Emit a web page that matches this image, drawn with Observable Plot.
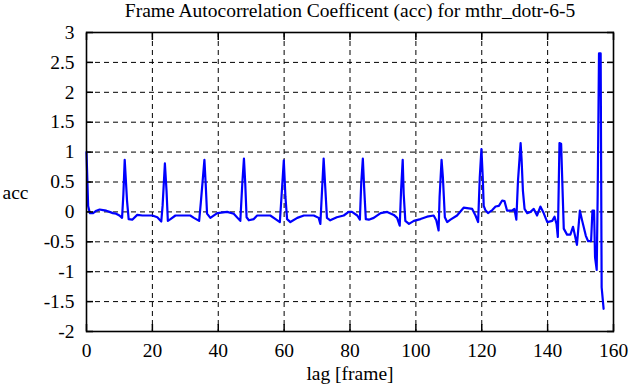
<!DOCTYPE html>
<html>
<head>
<meta charset="utf-8">
<script src="https://cdn.jsdelivr.net/npm/d3@7"></script>
<script src="https://cdn.jsdelivr.net/npm/@observablehq/plot@0.6"></script>
<style>
  html, body { margin: 0; padding: 0; background: #fff; }
</style>
</head>
<body>
<div id="chart"></div>
<script>
const title = "Frame Autocorrelation Coefficent (acc) for mthr_dotr-6-5";
const xLabel = "lag [frame]";
const yLabel = "acc";
const xTicks = [0, 20, 40, 60, 80, 100, 120, 140, 160];
const yTicks = [-2, -1.5, -1, -0.5, 0, 0.5, 1, 1.5, 2, 2.5, 3];

const lags = [
  0, 0.5, 1, 2, 3, 4, 5, 6, 7, 8, 9, 10, 10.8, 11.2, 11.6, 11.9, 12.3, 12.8, 13.9, 15.4, 17, 20, 21.5, 22.7,
  23.1, 23.8, 24.3, 24.7, 25.5, 27, 31.5, 32.6, 34.2, 34.7, 35.8, 36.2, 36.6, 37.6, 39.7, 42.7, 44.7, 46.7,
  47.3, 47.8, 48.2, 48.6, 49.3, 50.8, 51.8, 55.8, 57.4, 58.7, 59.2, 59.9, 60.4, 60.9, 61.9, 64, 66, 69, 70.5, 71,
  71.5, 72, 72.5, 73, 74, 76, 78.1, 79.6, 80.6, 82.2, 83, 83.4, 83.9, 84.3, 84.8, 85.7, 87.2, 89.3, 91.3, 93.3,
  94.3, 95.1, 95.5, 96, 96.3, 96.8, 97.9, 99.4, 101.4, 103.4, 105.4, 106.2, 106.9, 107.2, 107.8, 108.2, 108.8,
  109.5, 110.5, 112.5, 114.5, 117.1, 118.1, 118.9, 119.4, 119.9, 120.3, 120.6, 121.1, 121.9, 123.2, 124.2, 125.2,
  126.2, 126.9, 127.7, 129.2, 129.9, 130.5, 131, 131.8, 132.1, 132.5, 133, 133.8, 134.8, 135.8, 136.8, 137.8,
  138.8, 139.9, 141.4, 142.1, 142.7, 143.1, 143.4, 143.6, 144.1, 144.6, 144.9, 145.9, 146.9, 147.7, 148.2, 148.9,
  149.8, 150.5, 151.6, 152.3, 153.2, 153.6, 154.1, 154.4, 154.9, 155.2, 155.6, 156.1, 156.4, 157
];
const acc = [
  1.0, 0.1, -0.02, -0.02, 0.02, 0.04, 0.03, 0.02, 0.0, -0.02, -0.03, -0.06, -0.1, 0.3, 0.87, 0.58, 0.19, -0.12, -0.13, -0.05, -0.06, -0.06, -0.09, -0.16,
  0.1, 0.81, 0.35, -0.15, -0.12, -0.06, -0.06, -0.1, -0.15, 0.15, 0.87, 0.45, -0.03, -0.1, -0.02, 0.0, -0.03, -0.15,
  0.47, 0.89, 0.47, -0.09, -0.14, -0.12, -0.06, -0.06, -0.12, -0.17, 0.25, 0.86, 0.25, -0.12, -0.17, -0.1, -0.06, -0.06, -0.1, -0.2,
  0.35, 0.89, 0.4, -0.1, -0.14, -0.09, -0.06, 0.0, 0.0, -0.06, -0.13, 0.47, 0.89, 0.4, -0.12, -0.13, -0.1, -0.02, 0.0, -0.05,
  -0.1, -0.23, 0.35, 0.87, 0.3, -0.15, -0.2, -0.15, -0.12, -0.08, -0.06, -0.14, -0.31, 0.25, 0.87, 0.58, -0.09,
  -0.17, -0.13, -0.06, 0.07, 0.05, -0.06, -0.17, 0.58, 1.05, 0.58, 0.1, 0.03, -0.02, 0.03, 0.09, 0.1,
  0.19, 0.18, 0.02, 0.02, 0.05, -0.13, 0.52, 1.15, 0.87, 0.35, 0.05, -0.02, 0.0, 0.05, -0.06, 0.09,
  -0.02, -0.17, -0.15, -0.08, -0.2, -0.42, 0.52, 1.15, 1.14, 0.25, -0.28, -0.38, -0.38, -0.25, -0.37, -0.55,
  0.02, -0.15, -0.4, -0.49, -0.49, 0.02, 0.02, -0.76, -0.97, 0.3, 2.65, 2.65, -1.26, -1.62
];

const data = lags.map((l, i) => ({lag: l, acc: acc[i]}));

const font = "'Liberation Serif', 'Times New Roman', Times, serif";
const grid = {stroke: "#000", strokeOpacity: 1, strokeWidth: 1, strokeDasharray: "5,4"};
const fmt = d => String(d);
const txt = {fontFamily: font, fill: "#000"};
const noText = () => "";

const chart = Plot.plot({
  width: 641,
  height: 387,
  marginLeft: 86,
  marginRight: 28,
  marginTop: 32,
  marginBottom: 56,
  style: {fontFamily: font, fontSize: "19.5px", background: "#fff", color: "#000"},
  x: {domain: [0, 160]},
  y: {domain: [-2, 3]},
  marks: [
    Plot.gridX(xTicks, grid),
    Plot.gridY(yTicks, grid),
    Plot.line(data, {x: "lag", y: "acc", stroke: "#0000ff", strokeWidth: 2.2}),
    Plot.frame({stroke: "#000", strokeWidth: 1.6}),
    Plot.axisX(xTicks, {anchor: "bottom", tickSize: -7, tickFormat: noText, label: null, strokeWidth: 1.5}),
    Plot.axisX(xTicks, {anchor: "top", tickSize: -7, tickFormat: noText, label: null, strokeWidth: 1.5}),
    Plot.axisY(yTicks, {anchor: "left", tickSize: -7, tickFormat: noText, label: null, strokeWidth: 1.5}),
    Plot.axisY(yTicks, {anchor: "right", tickSize: -7, tickFormat: noText, label: null, strokeWidth: 1.5}),
    Plot.text(xTicks, {x: d => d, text: fmt, frameAnchor: "bottom", lineAnchor: "top", dy: 12, ...txt}),
    Plot.text(yTicks, {y: d => d, text: fmt, frameAnchor: "left", textAnchor: "end", lineAnchor: "middle", dx: -12, ...txt}),
    Plot.text([title], {frameAnchor: "top", lineAnchor: "middle", dy: -22, ...txt}),
    Plot.text([yLabel], {frameAnchor: "left", textAnchor: "middle", lineAnchor: "middle", dx: -71, dy: 11, ...txt}),
    Plot.text([xLabel], {frameAnchor: "bottom", lineAnchor: "middle", dy: 42, ...txt})
  ]
});
document.getElementById("chart").appendChild(chart);
</script>
</body>
</html>
